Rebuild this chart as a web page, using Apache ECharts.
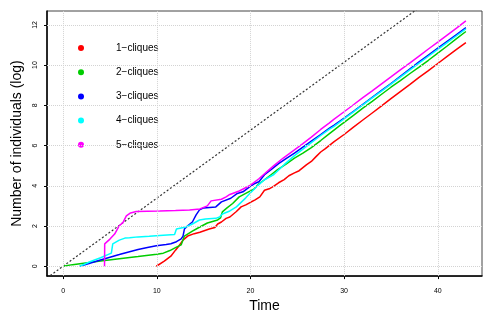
<!DOCTYPE html>
<html><head><meta charset="utf-8">
<script src="https://cdn.jsdelivr.net/npm/echarts@6/dist/echarts.min.js"></script>
<style>html,body{margin:0;padding:0;background:#fff}#c{width:496px;height:318px}</style>
</head><body><div id="c"></div>
<script>
// ---- data ----
const seriesNames = ['1\u2212cliques','2\u2212cliques','3\u2212cliques','4\u2212cliques','5\u2212cliques'];
const xTicks = [0,10,20,30,40];
const yTicks = [0,2,4,6,8,10,12];
const diagonal = [[-1.72,-0.58],[38,12.85]];

const red = [[9.95,0],[10.8,0.25],[11.5,0.5],[12.0,0.8],[12.4,1.03],[12.8,1.3],[13.3,1.5],[14.0,1.62],[14.6,1.69],[15.6,1.85],[16.2,1.93],[16.5,2.1],[16.9,2.2],[17.4,2.38],[17.8,2.45],[18.5,2.72],[19.0,2.95],[19.5,3.05],[20.0,3.18],[20.5,3.3],[21.0,3.45],[21.5,3.78],[22.0,3.85],[22.5,3.98],[23.0,4.15],[23.6,4.31],[24.1,4.5],[24.7,4.64],[25.2,4.75],[25.6,4.9],[26.0,5.05],[26.5,5.21],[27.0,5.45],[27.5,5.68],[28.0,5.85],[28.9,6.18],[30,6.55],[31,6.92],[32,7.27],[33,7.62],[34,7.97],[35,8.33],[36,8.68],[37,9.03],[38,9.39],[39,9.73],[40,10.08],[41,10.43],[42,10.78],[43,11.12]];

const green = [[0,0],[1,0.08],[2,0.14],[4,0.26],[6,0.37],[8,0.48],[10,0.6],[10.7,0.65],[11.4,0.78],[12.1,0.95],[12.6,1.06],[12.8,1.12],[12.95,1.5],[13.1,1.58],[13.8,1.75],[14.4,1.9],[15.4,2.15],[16.5,2.3],[16.8,2.4],[17.0,2.7],[17.5,2.9],[18.1,3.12],[18.8,3.45],[19.2,3.55],[19.9,3.72],[20.4,3.85],[20.9,4.1],[21.5,4.3],[22.2,4.55],[22.9,4.8],[23.8,5.08],[24.7,5.38],[25.6,5.62],[26.5,5.9],[27.5,6.25],[28.4,6.58],[29.5,6.98],[31,7.5],[32,7.86],[33,8.2],[34,8.55],[35,8.9],[36,9.23],[37,9.57],[38,9.9],[39,10.24],[40,10.6],[41,10.95],[42,11.32],[43,11.67]];

const blue = [[1.78,0],[2.5,0.1],[3.9,0.3],[5,0.45],[6,0.58],[6.9,0.7],[8,0.83],[9,0.93],[9.95,1.02],[11.0,1.08],[11.5,1.12],[12.1,1.22],[12.6,1.36],[12.8,1.5],[12.95,1.85],[13.4,2.05],[13.8,2.2],[14.2,2.55],[14.56,2.8],[15.0,2.9],[16.3,2.95],[16.9,3.2],[17.9,3.38],[18.6,3.62],[19.2,3.7],[19.9,3.95],[20.4,4.1],[20.9,4.2],[21.5,4.55],[22.2,4.8],[23.0,5.1],[23.8,5.35],[24.7,5.62],[25.6,5.92],[26.5,6.22],[27.5,6.55],[28.4,6.85],[28.9,7.01],[30,7.37],[31,7.7],[32,8.05],[33,8.4],[34,8.74],[35,9.08],[36,9.44],[37,9.8],[38,10.16],[39,10.5],[40,10.84],[41,11.18],[42,11.52],[43,11.86]];

const cyan = [[1.78,0],[3,0.25],[4,0.42],[5.15,0.65],[5.3,1.11],[6,1.3],[6.6,1.4],[7.1,1.42],[8,1.46],[9.2,1.49],[10.3,1.53],[11.9,1.58],[12.1,1.85],[13.1,1.95],[13.8,2.1],[14.56,2.3],[15.2,2.35],[16.3,2.38],[16.7,2.45],[17.0,2.6],[17.8,2.75],[18.5,2.95],[19.5,3.4],[19.9,3.6],[20.9,4.06],[21.5,4.3],[22.5,4.56],[23.6,5.05],[24.7,5.5],[25.6,5.82],[26.5,6.15],[27.5,6.5],[28.4,6.8],[28.9,6.94],[30,7.33],[31,7.67],[32,8.02],[33,8.37],[34,8.71],[35,9.05],[36,9.4],[37,9.75],[38,10.1],[39,10.44],[40,10.78],[41,11.12],[42,11.46],[43,11.8]];

const magenta = [[4.42,0],[4.44,1.11],[5.0,1.35],[5.5,1.6],[5.97,2.0],[6.4,2.18],[6.75,2.5],[7.2,2.65],[7.8,2.72],[9,2.74],[10.3,2.75],[12,2.77],[13.5,2.8],[14.6,2.85],[15.4,3.0],[15.8,3.25],[16.9,3.33],[17.4,3.45],[17.8,3.57],[18.8,3.74],[19.9,4.0],[20.9,4.35],[21.8,4.72],[22.5,5.0],[23.5,5.38],[24.7,5.79],[25.6,6.1],[26.5,6.42],[27.5,6.8],[28.4,7.12],[28.9,7.3],[30,7.68],[31,8.03],[32,8.38],[33,8.72],[34,9.07],[35,9.41],[36,9.76],[37,10.1],[38,10.45],[39,10.8],[40,11.14],[41,11.49],[42,11.84],[43,12.2]];

const seriesData = [red, green, blue, cyan, magenta];
const colors = ['#FF0000','#00CD00','#0000FF','#00FFFF','#FF00FF'];

// ---- chart ----
const chart = echarts.init(document.getElementById('c'), null, {renderer:'canvas'});
const FONT = 'Liberation Sans, Arial, sans-serif';
const gridLineStyle = {color:'#d3d3d3', type:'dotted', width:1};

const series = seriesData.map((d,i)=>({
  name: seriesNames[i], type:'line', data:d, showSymbol:false, symbol:'circle',
  lineStyle:{color:colors[i], width:1.5}, itemStyle:{color:colors[i]},
  animation:false, z:3, clip:true
}));
series.unshift({
  type:'line', data: diagonal, showSymbol:false, animation:false, z:2, clip:true,
  lineStyle:{color:'#333', type:[2,2], width:1.2}, silent:true,
  markLine:{silent:true, symbol:'none', label:{show:false}, animation:false,
    lineStyle: gridLineStyle,
    data: xTicks.map(v=>({xAxis:v})).concat(yTicks.map(v=>({yAxis:v})))}
});

chart.setOption({
  backgroundColor:'#fff',
  animation:false,
  grid:{left:47, right:14, top:11, bottom:39, show:true, borderColor:'#444', borderWidth:1, backgroundColor:'transparent'},
  legend:{
    data: seriesNames, orient:'vertical', left:73, top:37,
    icon:'circle', itemWidth:16, itemHeight:6, itemGap:12.2,
    textStyle:{fontSize:10, fontFamily:FONT, color:'#000', lineHeight:12, padding:[0,0,0,22]},
    selectedMode:false
  },
  xAxis:{
    type:'value', min:-1.72, max:44.72,
    name:'Time', nameLocation:'middle', nameGap:19,
    nameTextStyle:{fontSize:14, fontFamily:FONT, color:'#000'},
    axisLine:{show:true, onZero:false, lineStyle:{color:'#000', width:1.5}},
    axisTick:{show:true, customValues:xTicks, length:3, lineStyle:{color:'#000'}},
    axisLabel:{customValues:xTicks, fontSize:7, fontFamily:FONT, color:'#000', margin:11},
    splitLine:{show:false}
  },
  yAxis:{
    type:'value', min:-0.49, max:12.69,
    name:'Number of individuals (log)', nameLocation:'middle', nameGap:20,
    nameTextStyle:{fontSize:14, fontFamily:FONT, color:'#000'},
    axisLine:{show:true, onZero:false, lineStyle:{color:'#000', width:1.5}},
    axisTick:{show:true, customValues:yTicks, length:3, lineStyle:{color:'#000'}},
    axisLabel:{customValues:yTicks, rotate:90, fontSize:7, fontFamily:FONT, color:'#000', margin:8},
    splitLine:{show:false}
  },
  series: series
});
</script></body></html>
